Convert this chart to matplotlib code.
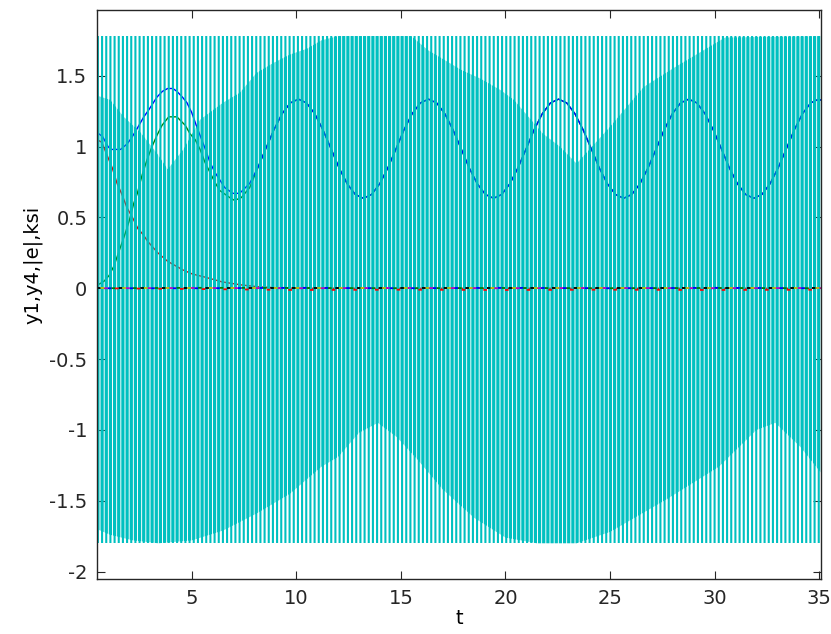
import matplotlib as mpl
import matplotlib.pyplot as plt

plt.rcParams['font.family'] = ['DejaVu Sans']
CYAN = '#00c0c0'
plt.rcParams['hatch.color'] = CYAN

# time extent of the ksi chatter and its swing
ksi_t = [0.47, 35.07]
ksi_hi = 1.78
ksi_lo = -1.80

# envelope of the dense part of ksi
dense_up_t = [0.47, 1.1, 1.75, 2.55, 3.35, 3.85, 4.6, 5.4, 6.5, 7.3, 8.1, 8.9, 9.7,
              10.5, 11.2, 12.0, 15.5, 16.3, 17.1, 17.9, 18.8, 19.75, 20.4, 21.8,
              22.6, 23.4, 25.0, 26.6, 28.1, 29.7, 30.5, 35.07]
dense_up = [1.36, 1.33, 1.21, 1.10, 0.95, 0.84, 0.98, 1.19, 1.31, 1.38, 1.52, 1.59,
            1.65, 1.69, 1.75, 1.78, 1.78, 1.68, 1.61, 1.54, 1.48, 1.40, 1.33, 1.09,
            1.00, 0.88, 1.14, 1.42, 1.56, 1.70, 1.77, 1.78]
dense_lo_t = [0.47, 1.1, 2.2, 3.4, 5.0, 6.5, 8.1, 9.7, 11.2, 12.0, 13.0, 13.9, 14.8,
              15.8, 17.0, 18.5, 20.0, 21.5, 23.4, 25.0, 27.7, 30.2, 32.0, 32.9,
              34.1, 35.07]
dense_lo = [-1.70, -1.74, -1.78, -1.80, -1.78, -1.71, -1.59, -1.45, -1.26, -1.19,
            -1.02, -0.95, -1.05, -1.21, -1.42, -1.62, -1.76, -1.80, -1.80, -1.72,
            -1.49, -1.26, -1.00, -0.95, -1.12, -1.30]

# y1 and y4 before they lock onto the reference
y1_t = [0.47, 0.74, 1.0, 1.13, 1.6, 1.92, 2.16, 2.4, 2.71, 2.95, 3.34, 3.6, 3.85,
        4.1, 4.29, 4.55, 4.77, 5.0, 5.24, 5.63, 5.87, 6.1, 6.58, 6.97, 7.29, 7.77]
y1_v = [1.10, 1.07, 1.00, 0.98, 0.98, 1.02, 1.07, 1.13, 1.21, 1.26, 1.35, 1.39, 1.41,
        1.41, 1.39, 1.35, 1.31, 1.24, 1.14, 0.99, 0.89, 0.82, 0.71, 0.67, 0.67, 0.74]
y4_t = [0.47, 0.81, 1.05, 1.29, 1.52, 1.76, 2.0, 2.23, 2.4, 2.63, 2.87, 3.1, 3.34,
        3.58, 3.9, 4.29, 4.69, 4.92, 5.16, 5.4, 5.63, 6.1, 6.34, 6.82, 7.05, 7.37, 7.77]
y4_v = [0.02, 0.05, 0.09, 0.16, 0.26, 0.36, 0.47, 0.60, 0.67, 0.80, 0.91, 1.00, 1.08,
        1.15, 1.21, 1.21, 1.15, 1.09, 1.05, 0.98, 0.89, 0.75, 0.69, 0.64, 0.62, 0.64, 0.71]

# common part, both outputs sit on it after t ~ 8
ref_t = [8.16, 8.54, 8.93, 9.32, 9.71, 10.10, 10.49, 10.88, 11.27, 11.66, 12.04, 12.43,
         12.82, 13.21, 13.60, 13.99, 14.38, 14.77, 15.15, 15.54, 15.93, 16.32, 16.71,
         17.10, 17.49, 17.88, 18.26, 18.65, 19.04, 19.43, 19.82, 20.21, 20.60, 20.99,
         21.37, 21.76, 22.15, 22.54, 22.93, 23.32, 23.71, 24.10, 24.48, 24.87, 25.26,
         25.65, 26.04, 26.43, 26.82, 27.21, 27.59, 27.98, 28.37, 28.76, 29.15, 29.54,
         29.93, 30.32, 30.70, 31.09, 31.48, 31.87, 32.26, 32.65, 33.04, 33.43, 33.81,
         34.20, 34.59, 34.98, 35.37]
ref_v = [0.851, 0.985, 1.119, 1.232, 1.308,
         1.335, 1.308, 1.232, 1.119, 0.985, 0.851, 0.738, 0.662,
         0.635, 0.662, 0.738, 0.851, 0.985, 1.119, 1.232, 1.308,
         1.335, 1.308, 1.232, 1.119, 0.985, 0.851, 0.738, 0.662,
         0.635, 0.662, 0.738, 0.851, 0.985, 1.119, 1.232, 1.308,
         1.335, 1.308, 1.232, 1.119, 0.985, 0.851, 0.738, 0.662,
         0.635, 0.662, 0.738, 0.851, 0.985, 1.119, 1.232, 1.308,
         1.335, 1.308, 1.232, 1.119, 0.985, 0.851, 0.738, 0.662,
         0.635, 0.662, 0.738, 0.851, 0.985, 1.119, 1.232, 1.308,
         1.335, 1.308]

# |e|
e_t = [0.47, 0.7, 1.2, 1.43, 1.67, 1.9, 2.2, 2.43, 2.67, 2.9, 3.38, 3.85, 4.57, 5.04,
       5.6, 6.45, 7.4, 8.2, 9.0, 10.0, 20.0, 35.07]
e_v = [1.05, 1.03, 0.85, 0.74, 0.66, 0.57, 0.49, 0.42, 0.38, 0.33, 0.25, 0.19, 0.13,
       0.10, 0.08, 0.045, 0.023, 0.01, 0.004, 0.0, 0.0, 0.0]

# the other signals hugging zero
z_t = [0.47, 5.0, 10.0, 15.0, 20.0, 25.0, 30.0, 35.07]
z_vals = {
    'k': [0.0, 0.0, 0.0, 0.0, 0.0, 0.0, 0.0, 0.0],
    'r': [0.0, -0.005, -0.012, -0.01, -0.012, -0.01, -0.012, -0.01],
    'g': [0.0, 0.003, 0.002, 0.0, 0.002, 0.0, 0.002, 0.0],
    'b': [0.0, 0.0, 0.003, 0.0, 0.003, 0.0, 0.003, 0.0],
    'm': [0.0, 0.002, 0.0, 0.002, 0.0, 0.002, 0.0, 0.002],
    'y': [0.0, 0.0, 0.0, 0.0, 0.0, 0.0, 0.0, 0.0],
}

fig = plt.figure(figsize=(8.31, 6.34), dpi=100)
ax = fig.add_axes([0.1167, 0.0868, 0.8709, 0.8974])

# outputs first, ksi goes over them
ax.plot(e_t, e_v, color='#e00000', lw=1.0, zorder=2)
ax.plot(y4_t + ref_t, y4_v + ref_v, color='#008000', lw=1.0, zorder=2)
ax.plot(y1_t + ref_t, y1_v + ref_v, color='#0000ff', lw=1.0, zorder=2.1)

# ksi: thin chatter lines everywhere, thicker ones inside the dense band
with mpl.rc_context({'hatch.linewidth': 1.5}):
    sp = ax.fill_between(ksi_t, ksi_lo, ksi_hi, facecolor='none', edgecolor=CYAN,
                         linewidth=0, hatch='||||', zorder=3)
    if hasattr(sp, 'set_hatch_linewidth'):
        sp.set_hatch_linewidth(1.5)
with mpl.rc_context({'hatch.linewidth': 2.3}):
    dn = ax.fill(dense_up_t + dense_lo_t[::-1], dense_up + dense_lo[::-1],
                 facecolor='none', edgecolor=CYAN, linewidth=0, hatch='||||',
                 zorder=3)[0]
    if hasattr(dn, 'set_hatch_linewidth'):
        dn.set_hatch_linewidth(2.3)

for i, (c, v) in enumerate(z_vals.items()):
    ax.plot(z_t, v, color=c, lw=1.3, zorder=4, linestyle=(2 * i, (2, 10)))

ax.set_xlim(0.47, 35.07)
ax.set_ylim(-2.052, 1.964)
ax.set_xticks([5, 10, 15, 20, 25, 30, 35])
ax.set_yticks([-2, -1.5, -1, -0.5, 0, 0.5, 1, 1.5])
ax.set_yticklabels(['-2', '-1.5', '-1', '-0.5', '0', '0.5', '1', '1.5'])
ax.tick_params(direction='in', top=True, right=True, length=6, width=0.8,
               labelsize=14, colors='#262626', pad=7)
for s in ax.spines.values():
    s.set_color('#262626')
    s.set_linewidth(1.0)
    s.set_zorder(5)

ax.set_xlabel('t', fontsize=14, labelpad=1)
ax.set_ylabel('y1,y4,|e|,ksi', fontsize=14)
ax.yaxis.set_label_coords(-0.075, 0.552)

fig.savefig('out.png', dpi=100)
